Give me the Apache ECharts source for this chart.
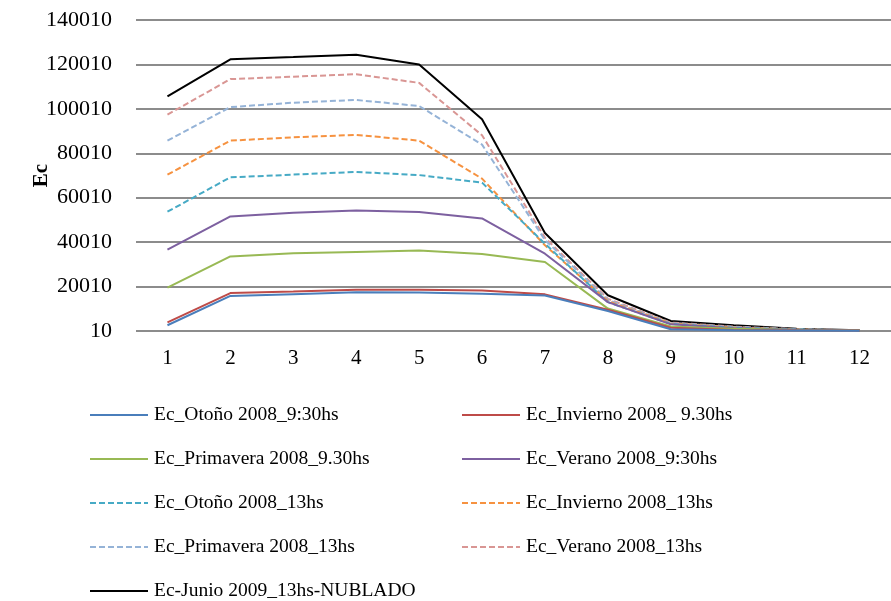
<!DOCTYPE html>
<html><head><meta charset="utf-8">
<script src="https://cdn.jsdelivr.net/npm/echarts@6/dist/echarts.min.js"></script>
<style>html,body{margin:0;padding:0;background:#fff}#c{width:891px;height:601px}</style>
</head><body><div id="c"></div>
<script>
const categories = ['1','2','3','4','5','6','7','8','9','10','11','12'];
const seriesNames = [
  'Ec_Otoño 2008_9:30hs','Ec_Invierno 2008_ 9.30hs',
  'Ec_Primavera 2008_9.30hs','Ec_Verano 2008_9:30hs',
  'Ec_Otoño 2008_13hs','Ec_Invierno 2008_13hs',
  'Ec_Primavera 2008_13hs','Ec_Verano 2008_13hs',
  'Ec-Junio 2009_13hs-NUBLADO'
];
const otono930     = [2600, 15800, 16600, 17400, 17300, 16800, 16000, 9000, 800, 300, 200, 100];
const invierno930  = [3900, 17100, 17800, 18600, 18600, 18200, 16500, 9600, 1500, 500, 300, 200];
const primavera930 = [19500, 33600, 35000, 35600, 36200, 34700, 31100, 10100, 2000, 1000, 500, 300];
const verano930    = [36600, 51600, 53200, 54200, 53600, 50700, 34800, 13000, 3000, 1300, 600, 300];
const otono13      = [53700, 69200, 70400, 71600, 70200, 66800, 39300, 13000, 3200, 1500, 700, 300];
const invierno13   = [70400, 85700, 87200, 88300, 85700, 68600, 38600, 13500, 3400, 1600, 700, 300];
const primavera13  = [85700, 100800, 102800, 104000, 101300, 83900, 41000, 14000, 3600, 1800, 800, 300];
const verano13     = [97400, 113400, 114500, 115600, 111700, 88100, 42000, 14500, 3800, 2000, 800, 300];
const junio2009    = [105600, 122300, 123300, 124400, 120000, 95300, 44100, 16100, 4500, 2600, 1000, 300];
const yTicks = [10, 20010, 40010, 60010, 80010, 100010, 120010, 140010];

const allData = [otono930, invierno930, primavera930, verano930, otono13, invierno13, primavera13, verano13, junio2009];
const colors = ['#4a7ebb','#be4b48','#98b954','#7d60a0','#46aac5','#f69240','#95b3d7','#d99694','#000000'];
const dashed = [false,false,false,false,true,true,true,true,false];
const font = 'Liberation Serif';

const series = allData.map((d,i)=>({
  name: seriesNames[i], type:'line', data:d, symbol:'none',
  lineStyle:{color:colors[i], width: 2, type: dashed[i]?[6,3]:'solid'},
  itemStyle:{color:colors[i]}, z: 10 - i
}));

const rowTop = [400, 444, 488, 532, 576];
const legends = seriesNames.map((n,i)=>({
  show:true, orient:'horizontal', data:[n],
  left: (i%2===0) ? 84 : 456, top: rowTop[Math.floor(i/2)],
  itemWidth:58, itemHeight:14, itemGap:0,
  itemStyle:{opacity:0},
  textStyle:{fontFamily:font, fontSize:19.5, color:'#000', padding:[0,0,0,1]}
}));

const chart = echarts.init(document.getElementById('c'));
chart.setOption({
  animation:false,
  grid:{left:136, top:20, width:763, bottom:270, containLabel:false},
  legend: legends,
  xAxis:{type:'category', data:categories, boundaryGap:true,
    axisLine:{show:false}, axisTick:{show:false},
    axisLabel:{fontFamily:font, fontSize:21, color:'#000', margin:17}},
  yAxis:{type:'value', min:10, max:140010, interval:20000,
    name:'Ec', nameLocation:'middle', nameGap:84, nameRotate:90, nameMoveOverlap:false,
    nameTextStyle:{fontFamily:font, fontSize:21, fontWeight:'bold', color:'#000'},
    axisLine:{show:false}, axisTick:{show:false},
    axisLabel:{fontFamily:font, fontSize:22, color:'#000', margin:24,
      formatter:v=>String(v)},
    splitLine:{lineStyle:{color:'#8c8c8c', width:2}}},
  series
});
</script></body></html>
